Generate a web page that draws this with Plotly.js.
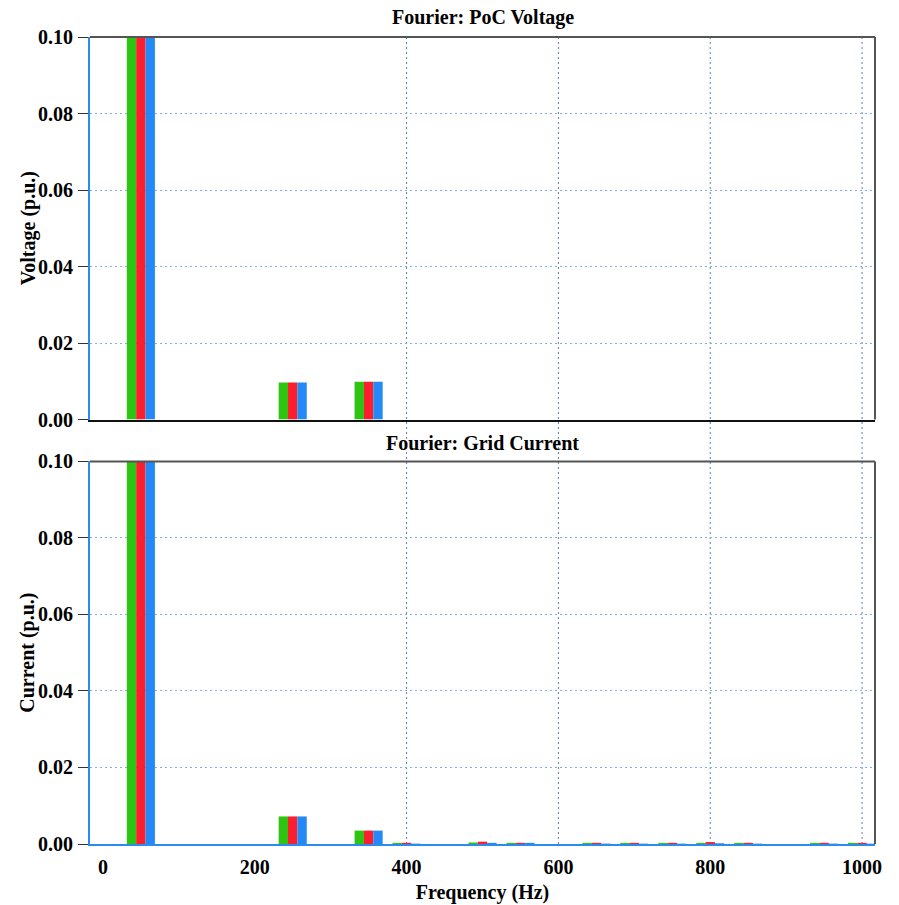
<!DOCTYPE html>
<html>
<head>
<meta charset="utf-8">
<script src="https://cdn.plot.ly/plotly-3.0.1.min.js"></script>
<style>
  html, body { margin: 0; padding: 0; background: #ffffff; }
  #chart { width: 899px; height: 905px; }
</style>
</head>
<body>
<div id="chart"></div>
<script>
// Harmonic frequencies (Hz)
const freqs = [50, 100, 150, 200, 250, 300, 350, 400, 450, 500,
               550, 600, 650, 700, 750, 800, 850, 900, 950, 1000];

// PoC voltage spectrum per phase (p.u.)
const voltA = [1.0, 0, 0, 0, 0.0097, 0, 0.0099, 0, 0, 0, 0, 0, 0, 0, 0, 0, 0, 0, 0, 0];
const voltB = [1.0, 0, 0, 0, 0.0097, 0, 0.0099, 0, 0, 0, 0, 0, 0, 0, 0, 0, 0, 0, 0, 0];
const voltC = [1.0, 0, 0, 0, 0.0097, 0, 0.0099, 0, 0, 0, 0, 0, 0, 0, 0, 0, 0, 0, 0, 0];

// Grid current spectrum per phase (p.u.)
const currA = [1.0, 0, 0, 0, 0.0072, 0, 0.0035, 0.0003, 0, 0.0004,
               0.0003, 0, 0.0003, 0.0003, 0.0003, 0.0003, 0.0003, 0, 0.0003, 0.0003];
const currB = [1.0, 0, 0, 0, 0.0072, 0, 0.0035, 0.0003, 0, 0.0006,
               0.0003, 0, 0.0003, 0.0003, 0.0003, 0.0005, 0.0003, 0, 0.0003, 0.0003];
const currC = [1.0, 0, 0, 0, 0.0072, 0, 0.0035, 0.0001, 0, 0.0003,
               0.0003, 0, 0.0001, 0.0001, 0.0001, 0.0002, 0.0001, 0, 0.0001, 0.0001];

const xTickVals = [0, 200, 400, 600, 800, 1000];
const yTickVals = [0, 0.02, 0.04, 0.06, 0.08, 0.10];
const gridFreqs = [400, 600, 800, 1000];

const phaseColors = ['#2ec512', '#fa1e2e', '#2389f7'];
const phaseNames = ['Phase A', 'Phase B', 'Phase C'];

const font = { family: 'Liberation Serif, Times New Roman, serif', size: 20, color: '#000000', weight: 'bold' };

function barTrace(y, i, xa, ya) {
  return {
    type: 'bar', x: freqs, y: y, name: phaseNames[i],
    marker: { color: phaseColors[i], line: { width: 0 } },
    xaxis: xa, yaxis: ya, showlegend: false, hoverinfo: 'skip'
  };
}

const data = [
  barTrace(voltA, 0, 'x', 'y'), barTrace(voltB, 1, 'x', 'y'), barTrace(voltC, 2, 'x', 'y'),
  barTrace(currA, 0, 'x2', 'y2'), barTrace(currB, 1, 'x2', 'y2'), barTrace(currC, 2, 'x2', 'y2')
];

const xRange = [-17, 1017];
const yRange = [0, 0.1];

const yAxisCommon = {
  range: yRange, tickvals: yTickVals, tickformat: '.2f',
  ticks: 'outside', ticklen: 10, tickcolor: '#333333', tickwidth: 1,
  ticklabelstandoff: 1,
  showgrid: true, gridcolor: '#86aee6', griddash: '2px,3px', gridwidth: 1,
  showline: true, linecolor: '#2a8cf0', linewidth: 2,
  zeroline: false, tickfont: font, automargin: false
};

const shapes = [];
// vertical dotted grid running through both panels
gridFreqs.forEach(f => {
  shapes.push({ type: 'line', xref: 'x2', yref: 'paper', x0: f, x1: f, y0: 0, y1: 1,
    line: { color: '#5a7fb8', width: 1, dash: '2px,3px' }, layer: 'below' });
  shapes.push({ type: 'line', xref: 'x2', yref: 'y2', ysizemode: 'pixel', yanchor: 0,
    x0: f, x1: f, y0: 0, y1: -11, line: { color: '#555555', width: 1.5 } });
});
// top and right borders of each panel
[['x', 'y'], ['x2', 'y2']].forEach(([xa, ya]) => {
  shapes.push({ type: 'line', xref: xa + ' domain', yref: ya + ' domain', x0: 0, x1: 1, y0: 1, y1: 1,
    line: { color: '#555555', width: 2 } });
  shapes.push({ type: 'line', xref: xa + ' domain', yref: ya + ' domain', x0: 1, x1: 1, y0: 0, y1: 1,
    line: { color: '#555555', width: 2 } });
});

const layout = {
  width: 899, height: 905,
  margin: { l: 90, r: 24, t: 37, b: 61 },
  paper_bgcolor: '#ffffff', plot_bgcolor: '#ffffff',
  font: font,
  barmode: 'group', bargap: 0.26, bargroupgap: 0,
  xaxis: {
    domain: [0, 1], anchor: 'y', range: xRange, tickvals: xTickVals,
    showticklabels: false, ticks: '', showgrid: false, zeroline: false,
    showline: true, linecolor: '#111111', linewidth: 2
  },
  yaxis: Object.assign({}, yAxisCommon, { domain: [0.5259, 1], anchor: 'x' }),
  xaxis2: {
    domain: [0, 1], anchor: 'y2', range: xRange, tickvals: xTickVals,
    ticks: '', ticklabelstandoff: 4, showgrid: false, zeroline: false,
    showline: true, linecolor: '#2a8cf0', linewidth: 2, tickfont: font,
    automargin: false,
    title: { text: 'Frequency (Hz)', font: font, standoff: 8 }
  },
  yaxis2: Object.assign({}, yAxisCommon, { domain: [0, 0.4741], anchor: 'x2' }),
  shapes: shapes,
  annotations: [
    { text: 'Fourier: PoC Voltage', xref: 'x domain', yref: 'y domain', x: 0.5, y: 1,
      yshift: 20, yanchor: 'middle', showarrow: false, font: font },
    { text: 'Fourier: Grid Current', xref: 'x2 domain', yref: 'y2 domain', x: 0.5, y: 1,
      yshift: 18, yanchor: 'middle', showarrow: false, font: font },
    // vertical axis titles
    { text: 'Voltage (p.u.)', xref: 'paper', yref: 'y domain', x: 0, y: 0.5,
      xshift: -62, xanchor: 'center', yanchor: 'middle', textangle: -90,
      showarrow: false, font: font },
    { text: 'Current (p.u.)', xref: 'paper', yref: 'y2 domain', x: 0, y: 0.5,
      xshift: -62, xanchor: 'center', yanchor: 'middle', textangle: -90,
      showarrow: false, font: font }
  ]
};

Plotly.newPlot('chart', data, layout, { staticPlot: true, displayModeBar: false });
</script>
</body>
</html>
